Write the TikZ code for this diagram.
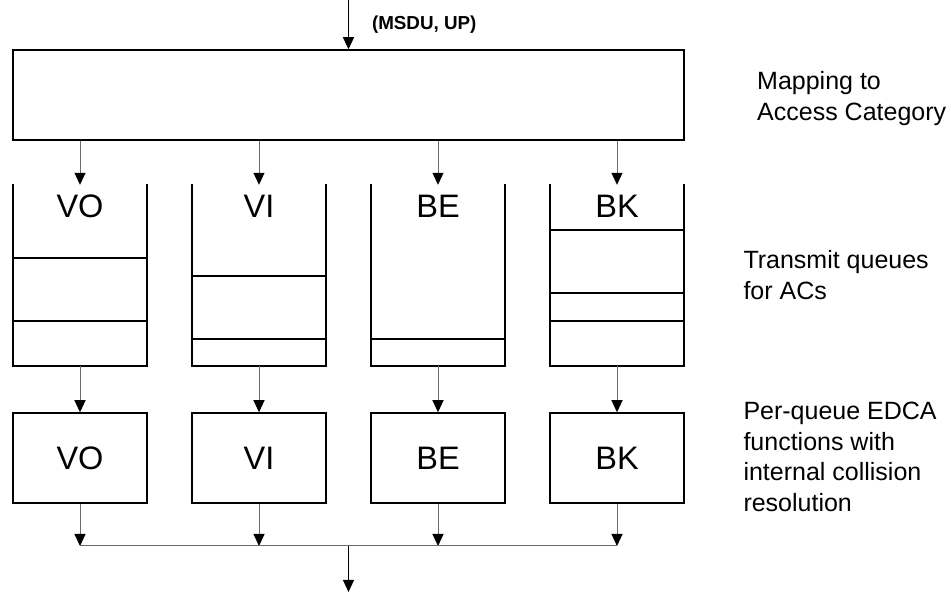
\documentclass[tikz,border=0pt]{standalone}
\usepackage{fontspec}
\setmainfont{Liberation Sans}
\usepackage{tikz}
\usetikzlibrary{arrows.meta,positioning}

\begin{document}
\begin{tikzpicture}[
  x=1pt,
  y=1pt,
  block/.style={
    draw=black,
    line width=1.5pt,
    inner sep=0pt,
    minimum width=134pt,
    minimum height=90pt,
    font=\fontsize{32.5}{38}\selectfont
  },
  queue/.style={inner sep=0pt, minimum width=134pt, minimum height=181pt},
  wall/.style={line width=1.5pt, line cap=rect},
  conn/.style={-{Triangle[length=12pt,width=11pt,color=black]}, line width=1pt, color=black!58},
  feed/.style={-{Triangle[length=12pt,width=11pt]}, line width=1pt, color=black},
  qname/.style={font=\fontsize{32.5}{38}\selectfont, inner sep=0pt},
  side/.style={font=\fontsize{25}{30.5}\selectfont, align=left, inner sep=0pt, anchor=north west}
]
  \useasboundingbox (0,0) rectangle (951,592);

  \node[block, minimum width=671pt] (map) at (348.5,497) {};
  \coordinate (in) at (348.5,592);
  \coordinate (bus) at (348.5,46);
  \coordinate (out) at (348.5,0);

  \draw[feed] (in) -- (map.north)
    node[midway, anchor=west, xshift=23pt, inner sep=0pt,
         font=\fontsize{18.8}{22}\selectfont\bfseries] (msdu) {(MSDU, UP)};

  \foreach \n/\x in {VO/80,VI/259,BE/438,BK/617} {
    \node[queue] (q\n) at (\x,316.5) {};
    \draw[wall] (q\n.north west) -- (q\n.south west) -- (q\n.south east) -- (q\n.north east);
    \node[qname] (l\n) at ([yshift=-22pt]q\n.north) {\n};
    \node[block] (e\n) at (\x,134) {\n};
    \draw[conn] (map.south -| q\n.north) -- (q\n.north);
    \draw[conn] (q\n.south) -- (e\n.north);
    \draw[conn] (e\n.south) -- (e\n.south |- bus);
  }

  % frames waiting in each queue
  \foreach \n/\h in {VO/108,VO/45,VI/90,VI/27,BE/27,BK/136,BK/73,BK/45}
    \draw[wall, line cap=butt] ([yshift=\h pt]q\n.south west) -- ([yshift=\h pt]q\n.south east);

  \draw[line width=1pt, color=black!58] (eVO.south |- bus) -- (eBK.south |- bus);
  \draw[feed] (bus) -- (out);

  \node[side] (tmap) at (757,520.5) {Mapping to\\Access Category};
  \node[side] (tqueue) at (743.3,341.5) {Transmit queues\\for ACs};
  \node[side] (tedca) at (743.3,189.7) {Per-queue EDCA\\functions with\\internal collision\\resolution};
\end{tikzpicture}
\end{document}
